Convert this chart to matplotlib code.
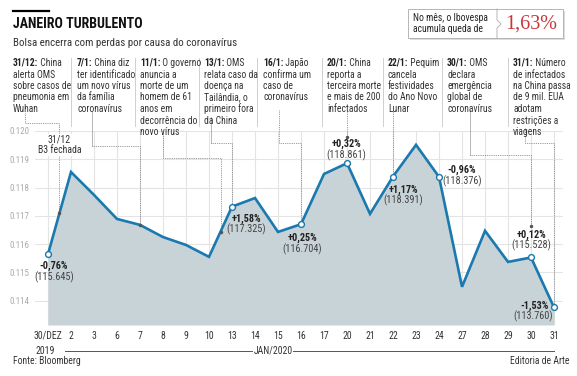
import matplotlib
matplotlib.use('Agg')
import matplotlib.pyplot as plt
from matplotlib import font_manager
from matplotlib.patches import Rectangle
from matplotlib.lines import Line2D
import numpy as np

# dados
dates = ['30/DEZ', '2', '3', '6', '7', '8', '9', '10', '13', '14', '15', '16',
         '17', '20', '21', '22', '23', '24', '27', '28', '29', '30', '31']
values = [0.115645, 0.11855, 0.11774, 0.11689, 0.11668, 0.11625, 0.11597,
          0.11555, 0.117325, 0.11763, 0.11643, 0.116704, 0.11848, 0.118861,
          0.11707, 0.118391, 0.11951, 0.118376, 0.11449, 0.11647, 0.11537,
          0.115528, 0.11376]
yticks = [0.114, 0.115, 0.116, 0.117, 0.118, 0.119, 0.120]
ytick_labels = ['0.114', '0.115', '0.116', '0.117', '0.118', '0.119', '0.120']
label_idx = [0, 8, 11, 13, 15, 17, 21, 22]
label_pct = ['-0,76%', '+1,58%', '+0,25%', '+0,32%', '+1,17%', '-0,96%', '+0,12%', '-1,53%']
label_val = ['(115.645)', '(117.325)', '(116.704)', '(118.861)', '(118.391)',
             '(118.376)', '(115.528)', '(113.760)']

event_dates = ['31/12:', '7/1:', '11/1:', '13/1:', '16/1:', '20/1:', '22/1:', '30/1:', '31/1:']
event_lines = [
    [' China', 'alerta OMS', 'sobre casos de', 'pneumonia em', 'Wuhan'],
    [' China diz', 'ter identificado', 'um novo vírus', 'da família', 'coronavírus'],
    [' O governo', 'anuncia a', 'morte de um', 'homem de 61', 'anos em', 'decorrência do', 'novo vírus'],
    [' OMS', 'relata caso da', 'doença na', 'Tailândia, o', 'primeiro fora', 'da China'],
    [' Japão', 'confirma um', 'caso de', 'coronavírus'],
    [' China', 'reporta a', 'terceira morte', 'e mais de 200', 'infectados'],
    [' Pequim', 'cancela', 'festividades', 'do Ano Novo', 'Lunar'],
    [' OMS', 'declara', 'emergência', 'global de', 'coronavírus'],
    [' Número', 'de infectados', 'na China passa', 'de 9 mil. EUA', 'adotam', 'restrições a', 'viagens'],
]

# fonte estreita se houver
names = set(f.name for f in font_manager.fontManager.ttflist)
narrow = 'DejaVu Sans'
for cand in ['Roboto Condensed', 'Liberation Sans Narrow', 'Open Sans Condensed',
             'DejaVu Sans Condensed', 'Liberation Sans']:
    if cand in names:
        narrow = cand
        break
plt.rcParams['font.family'] = [narrow, 'DejaVu Sans']

W, H = 577, 376
AX_L, AX_R, AX_T, AX_B = 35, 563, 131, 325
xlim = (-0.565, 22.39)
ylim = (0.11314, 0.1200)


def px2x(px):
    return xlim[0] + (px - AX_L) / (AX_R - AX_L) * (xlim[1] - xlim[0])


def py2y(py):
    return ylim[0] + (AX_B - py) / (AX_B - AX_T) * (ylim[1] - ylim[0])


def fx(px):
    return px / W


def fy(py):
    return 1 - py / H


fig = plt.figure(figsize=(W / 100, H / 100), dpi=100)
ax = fig.add_axes([fx(AX_L), fy(AX_B), (AX_R - AX_L) / W, (AX_B - AX_T) / H])

x = np.arange(len(values))
line_c = '#1a79ae'
ax.fill_between(x, values, ylim[0], color='#c8d3d7', zorder=2, lw=0)
ax.plot(x, values, color=line_c, lw=1.9, zorder=4, solid_joinstyle='miter')
ax.plot(x[label_idx], np.array(values)[label_idx], 'o', ms=4.2, mfc='white',
        mec=line_c, mew=1.0, zorder=5)

ax.set_xlim(*xlim)
ax.set_ylim(*ylim)
ax.set_xticks(x)
ax.set_xticklabels(dates, fontsize=7, color='#333333')
ax.set_yticks(yticks)
ax.set_yticklabels(ytick_labels, fontsize=6.5, color='#aaaaaa')
ax.tick_params(length=0, axis='x', pad=4)
ax.tick_params(length=0, axis='y', pad=4)
ax.grid(True, color='#e4e4e4', lw=0.8, zorder=0)
ax.set_axisbelow(True)
for s in ax.spines.values():
    s.set_visible(False)

# rotulos dos pontos
offs = [((6, -12), (6, -23), 'center'), ((14, -12), (14, -23), 'center'),
        ((1, -14), (1, -25), 'center'), ((-1, 19), (-1, 8), 'center'),
        ((10, -13), (10, -24), 'center'), ((23, 7), (23, -4), 'center'),
        ((0, 23), (0, 12), 'center'), ((-5, 2), (-1, -9), 'right')]
for i, p, v, (o1, o2, ha) in zip(label_idx, label_pct, label_val, offs):
    ax.annotate(p, (x[i], values[i]), xytext=o1, textcoords='offset pixels',
                ha=ha, va='center', fontsize=7.4, fontweight='bold', color='#222222', zorder=6)
    ax.annotate(v, (x[i], values[i]), xytext=o2, textcoords='offset pixels',
                ha=ha, va='center', fontsize=7.4, color='#444444', zorder=6)

ax.text(0.5, py2y(145), '31/12\nB3 fechada', ha='center', va='center', fontsize=7,
        color='#333333', linespacing=1.1, zorder=6,
        bbox=dict(facecolor='white', edgecolor='none', pad=0.5))

# linhas de chamada
def on_line(xi):
    return np.interp(xi, x, values)


dot = dict(color='#777777', lw=0.6, ls=(0, (1, 1.2)), clip_on=False, zorder=3)
solid = dict(color='#aaaaaa', lw=0.6, clip_on=False, zorder=3)
ends = []

ax.plot([px2x(25)] * 2 + [0.5] * 2, [py2y(113), py2y(123), py2y(123), on_line(0.5)], **dot)
ends.append((0.5, on_line(0.5)))
ax.plot([px2x(92)] * 2, [py2y(112), py2y(146)], **solid)
ax.plot([px2x(92), 4, 4], [py2y(146), py2y(146), values[4]], **dot)
ends.append((4, values[4]))
ax.plot([px2x(163)] * 2 + [7.5] * 2, [py2y(132), py2y(158), py2y(158), on_line(7.5)], **dot)
ends.append((7.5, on_line(7.5)))
ax.plot([px2x(211)] * 2, [py2y(117), py2y(143)], **solid)
ax.plot([px2x(211), 8, 8], [py2y(143), py2y(143), values[8]], **dot)
ax.plot([px2x(279)] * 2 + [11] * 2, [py2y(110), py2y(143), py2y(143), values[11]], **dot)
ax.plot([13, 13], [py2y(110), py2y(137)], **dot)
ends.append((13, py2y(137)))
ax.plot([15, 15], [py2y(110), values[15]], **dot)
ax.plot([px2x(470)] * 2, [py2y(110), py2y(155)], **solid)
ax.plot([px2x(470), 21, 21], [py2y(155), py2y(155), py2y(226)], **dot)
ends.append((21, py2y(226)))
ax.plot([px2x(525)] * 2 + [22] * 2, [py2y(128), py2y(143), py2y(143), values[22]], **dot)
ex, ey = zip(*ends)
ax.plot(ex, ey, 'o', ms=1.5, color='#555555', clip_on=False, zorder=5)

# eixo x secundario
ax.text(-0.13, py2y(351), '2019', ha='center', va='center', fontsize=7,
        color='#333333', clip_on=False)
ax.text(9.8, py2y(351), 'JAN/2020', ha='center', va='center', fontsize=7,
        color='#333333', clip_on=False)
ax.plot([px2x(65), px2x(252)], [py2y(351)] * 2, color='#555555', lw=0.7, clip_on=False)
ax.plot([px2x(293), 22], [py2y(351)] * 2, color='#555555', lw=0.7, clip_on=False)

# blocos de texto dos eventos
block_x = [13, 77, 140, 204, 263, 327, 388, 447, 513]
sep_x = [71, 135, 199, 257, 322, 383, 442, 508]
for sx in sep_x:
    fig.add_artist(Line2D([fx(sx)] * 2, [fy(58), fy(126)], color='#cfcfcf', lw=0.7))
for bx, d, lines in zip(block_x, event_dates, event_lines):
    t = fig.text(fx(bx), fy(66), d, fontsize=6.9, fontweight='bold', color='#222222',
                 va='baseline')
    fig.add_artist(matplotlib.text.Annotation(lines[0], xy=(1, 0), xycoords=t,
                   va='bottom', ha='left', fontsize=6.9, color='#333333'))
    for k, ln in enumerate(lines[1:]):
        fig.text(fx(bx), fy(66 + 11.5 * (k + 1)), ln, fontsize=6.9, color='#333333',
                 va='baseline')

# titulo
fig.add_artist(Line2D([fx(13), fx(49)], [fy(11), fy(11)], color='black', lw=1.6))
fig.text(fx(13), fy(24), 'JANEIRO TURBULENTO', fontsize=10, fontweight='bold',
         color='#111111', va='center')
fig.text(fx(13), fy(43), 'Bolsa encerra com perdas por causa do coronavírus',
         fontsize=7.8, color='#333333', va='center')

# caixa superior direita
fig.add_artist(Rectangle((fx(410), fy(40)), fx(155), 29 / H, transform=fig.transFigure,
                         facecolor='#dddddd', edgecolor='none'))
fig.add_artist(Rectangle((fx(408), fy(38)), fx(155), 29 / H, transform=fig.transFigure,
                         facecolor='white', edgecolor='#aaaaaa', lw=0.6))
fig.add_artist(Line2D([fx(497), fx(497), fx(501), fx(497), fx(497)],
                      [fy(9), fy(20), fy(24), fy(28), fy(38)], color='#aaaaaa', lw=0.6))
fig.text(fx(413), fy(18), 'No mês, o Ibovespa', fontsize=6.9, color='#222222', va='center')
fig.text(fx(413), fy(29), 'acumula queda de', fontsize=6.9, color='#222222', va='center')
fig.text(fx(531), fy(24), '1,63%', fontsize=14.5, color='#c8363a', ha='center', va='center',
         family=['Liberation Serif', 'DejaVu Serif'])

fig.text(fx(13), fy(361), 'Fonte: Bloomberg', fontsize=6.9, color='#333333', va='center')
fig.text(fx(570), fy(361), 'Editoria de Arte', fontsize=6.9, color='#333333', va='center',
         ha='right')

fig.savefig('out.png', dpi=100)
